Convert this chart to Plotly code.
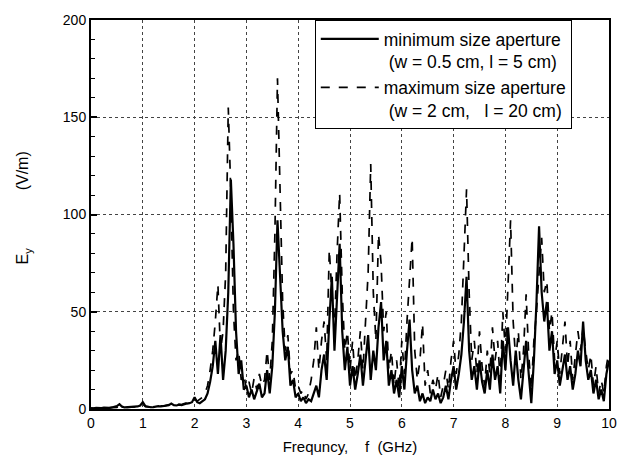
import plotly.graph_objects as go

# Field strength E_y (V/m) sampled every 0.05 GHz from 0 to 10 GHz
min_aperture = [
    0.5, 0.3, 0.6, 0.4, 0.5, 0.7, 0.5, 0.6, 0.8, 1.0,
    1.5, 2.5, 1.2, 0.8, 0.9, 1.0, 0.8, 1.1, 1.3, 1.8,
    3.5, 1.5, 1.0, 0.9, 1.0, 1.2, 1.5, 1.3, 1.6, 1.8,
    2.0, 2.8, 2.0, 1.8, 2.2, 2.0, 2.5, 2.8, 3.0, 3.5,
    6, 3.5, 3, 4, 5, 8, 14, 22, 35, 18,
    38, 15, 30, 60, 118, 85, 40, 18, 25, 10,
    12, 6, 10, 5, 9, 13, 6, 8, 20, 8,
    22, 50, 97, 70, 40, 25, 32, 12, 15, 6,
    8, 4, 6, 3, 5, 4, 8, 12, 6, 20,
    28, 15, 45, 68, 30, 55, 85, 40, 20, 32,
    12, 22, 10, 18, 28, 12, 25, 38, 15, 30,
    20, 42, 55, 25, 35, 12, 20, 8, 15, 6,
    22, 10, 30, 46, 20, 8, 12, 4, 8, 3,
    6, 4, 10, 5, 8, 3, 6, 12, 5, 15,
    22, 10, 18, 28, 45, 68, 30, 15, 22, 10,
    25, 14, 8, 20, 10, 28, 15, 22, 8, 35,
    20, 42, 25, 12, 30, 15, 5, 20, 35, 18,
    3, 25, 55, 94, 60, 45, 55, 30, 40, 18,
    25, 12, 20, 28, 15, 22, 10, 18, 30, 22,
    45, 25, 15, 20, 8, 15, 5, 10, 4, 18,
    25,
]

max_aperture = [
    0.3, 0.2, 0.4, 0.3, 0.5, 0.4, 0.6, 0.5, 0.7, 0.6,
    0.8, 1.5, 0.9, 0.7, 0.8, 0.9, 0.8, 1.0, 1.2, 1.5,
    2.5, 1.2, 1.0, 0.9, 1.1, 1.3, 1.4, 1.6, 1.5, 1.9,
    2.2, 2.5, 2.1, 2.0, 2.4, 2.3, 2.8, 3.0, 3.5, 4.0,
    5, 4, 5, 6, 8, 12, 20, 30, 45, 64,
    30, 40, 70, 155, 110, 50, 25, 30, 15, 18,
    10, 14, 8, 16, 10, 18, 12, 15, 30, 15,
    35, 90, 170, 110, 55, 30, 38, 18, 20, 10,
    12, 8, 10, 5, 8, 15, 25, 42, 20, 35,
    45, 25, 82, 60, 40, 80, 111, 60, 30, 40,
    20, 35, 15, 25, 40, 20, 45, 70, 126, 60,
    35, 90, 75, 40, 50, 20, 30, 12, 25, 10,
    35, 18, 45, 70, 88, 30, 15, 25, 44, 12,
    20, 8, 15, 10, 18, 6, 12, 20, 10, 25,
    35, 18, 28, 45, 80, 113, 60, 25, 35, 18,
    40, 22, 12, 30, 18, 42, 25, 35, 15, 50,
    30, 65, 97, 45, 25, 40, 15, 30, 59, 28,
    10, 35, 50, 70, 88, 60, 66, 40, 50, 25,
    35, 18, 30, 45, 22, 35, 15, 28, 40, 30,
    42, 30, 20, 28, 12, 22, 8, 15, 8, 22,
    30,
]

freq = [round(i * 0.05, 2) for i in range(len(min_aperture))]

x_ticks = list(range(0, 11))
y_ticks = [0, 50, 100, 150, 200]

font_family = "Liberation Sans, Arial, sans-serif"

fig = go.Figure()
fig.add_trace(go.Scatter(
    x=freq, y=min_aperture, mode="lines",
    name="minimum size aperture<br> (w = 0.5 cm, l = 5 cm)",
    line=dict(color="black", width=2.2),
))
fig.add_trace(go.Scatter(
    x=freq, y=max_aperture, mode="lines",
    name="maximum size aperture<br> (w = 2 cm,   l = 20 cm)",
    line=dict(color="black", width=1.7, dash="dash"),
))

fig.update_layout(
    width=633, height=470,
    margin=dict(l=91, r=24, t=15, b=61),
    paper_bgcolor="white", plot_bgcolor="white",
    font=dict(family=font_family, size=14, color="black"),
    showlegend=True,
    legend=dict(
        x=0.432, y=1.0, xanchor="left", yanchor="top",
        bordercolor="black", borderwidth=1, bgcolor="white",
        font=dict(size=17.5, family=font_family, color="black"),
        valign="top", tracegroupgap=0, itemwidth=58,
    ),
)

fig.update_xaxes(
    range=[0, 10], tickvals=x_ticks, ticktext=[str(v) for v in x_ticks],
    showline=True, linecolor="black", linewidth=2, mirror=True,
    showgrid=True, gridcolor="#444", gridwidth=0.8, griddash="dot",
    ticks="", zeroline=False,
    tickfont=dict(size=14),
    title=dict(text="Frequncy,    f  (GHz)", font=dict(size=15), standoff=12),
)
fig.update_yaxes(
    range=[0, 200], tickvals=y_ticks, ticktext=[str(v) for v in y_ticks],
    showline=True, linecolor="black", linewidth=2, mirror=True,
    showgrid=True, gridcolor="#444", gridwidth=0.8, griddash="dot",
    ticks="inside", ticklen=6, tickwidth=1.5, tickcolor="black",
    minor=dict(dtick=10, ticks="inside", ticklen=4, tickwidth=1.2,
               tickcolor="black", showgrid=False),
    zeroline=False,
    tickfont=dict(size=14),
    title=dict(text="&nbsp;&nbsp;&nbsp;E<sub>y</sub>             (V/m)",
               font=dict(size=16), standoff=30),
)

fig.write_html("out.html")
